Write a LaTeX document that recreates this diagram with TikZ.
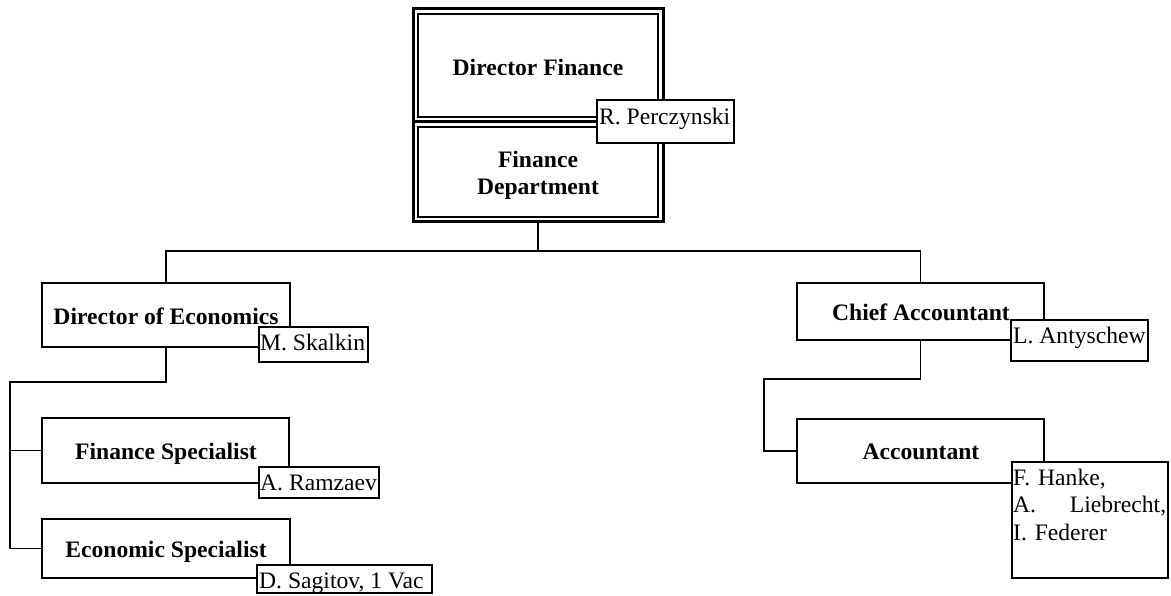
\documentclass[tikz,border=0pt]{standalone}
\usepackage{fontspec}
\setmainfont{Liberation Serif}
\begin{document}
\begin{tikzpicture}[x=1pt,y=-1pt,
  every node/.style={font=\fontsize{23.6}{27.7}\selectfont},
  unitbox/.style={draw, line width=1.8pt, inner sep=0pt, outer sep=0pt},
  topbox/.style={draw, line width=3pt, inner sep=0pt, outer sep=0pt, minimum width=250pt},
  namebox/.style={draw, fill=white, line width=1.8pt, inner sep=0pt, outer sep=0pt},
  title/.style={font=\fontsize{23.6}{27.7}\selectfont\bfseries, inner sep=0pt, anchor=base},
  person/.style={inner sep=0pt, anchor=base west},
  link/.style={line width=1.8pt}]
\useasboundingbox (0,0) rectangle (1171,596);

% top double boxes
\node[topbox, minimum height=113pt] (dirfin) at (538,65.5) {};
\node[topbox, minimum height=100pt] (findept) at (538,172) {};
\draw[line width=2pt] ([xshift=5pt,yshift=-5pt]dirfin.north west) rectangle ([xshift=-5pt,yshift=5pt]dirfin.south east);
\draw[line width=2pt] ([xshift=5pt,yshift=-5pt]findept.north west) rectangle ([xshift=-5pt,yshift=5pt]findept.south east);

% unit boxes
\node[unitbox, minimum width=248pt, minimum height=64pt] (doe) at (166,315) {};
\node[unitbox, minimum width=247pt, minimum height=65pt] (fs) at (165.5,450.5) {};
\node[unitbox, minimum width=248pt, minimum height=59pt] (es) at (166,548.5) {};
\node[unitbox, minimum width=247pt, minimum height=57pt] (ca) at (920.5,311.5) {};
\node[unitbox, minimum width=247pt, minimum height=64pt] (acc) at (920.5,451) {};

% connectors
\coordinate (bus) at (538,251);
\coordinate (lbend) at (10,382);
\coordinate (rbend) at (764,379);
\draw[link] (findept.south) -- (bus);
\draw[link] (doe.north) |- (bus) -| (ca.north);
\draw[link] (doe.south) |- (lbend) -- (lbend |- es.west) -- (es.west);
\draw[link] (lbend |- fs.west) -- (fs.west);
\draw[link] (ca.south) |- (rbend) |- (acc.west);

% titles
\node[title] (tdirfin) at (538,76) {Director Finance};
\node[title, align=center] (tfindept) at (538,195) {Finance\\Department};
\node[title] (tdoe) at (166,324) {Director of Economics};
\node[title] (tfs) at (166,459) {Finance Specialist};
\node[title] (tes) at (166,557) {Economic Specialist};
\node[title] (tca) at (921,320) {Chief Accountant};
\node[title] (tacc) at (921,459) {Accountant};

% name boxes
\node[namebox, minimum width=137pt, minimum height=43pt] (rp) at (665.5,121.5) {};
\node[namebox, minimum width=109pt, minimum height=35pt] (ms) at (313.5,344.5) {};
\node[namebox, minimum width=120pt, minimum height=31pt] (ar) at (319,482.5) {};
\node[namebox, minimum width=175pt, minimum height=28pt] (ds) at (344.5,579) {};
\node[namebox, minimum width=137pt, minimum height=41pt] (la) at (1079.5,340.5) {};
\node[namebox, minimum width=156pt, minimum height=116pt] (fh) at (1090,520) {};

% names
\node[person] (nrp) at (599,125) {R. Perczynski};
\node[person] (nms) at (260,350) {M. Skalkin};
\node[person] (nar) at (260,490) {A. Ramzaev};
\node[person] (nds) at (259,588) {D. Sagitov, 1 Vac};
\node[person] (nla) at (1013,344) {L. Antyschew};
\node[person, text width=153pt, align=left] (nfh) at (1013,485) {F. Hanke,\\A.\hfill Liebrecht,\\I. Federer};
\end{tikzpicture}
\end{document}
